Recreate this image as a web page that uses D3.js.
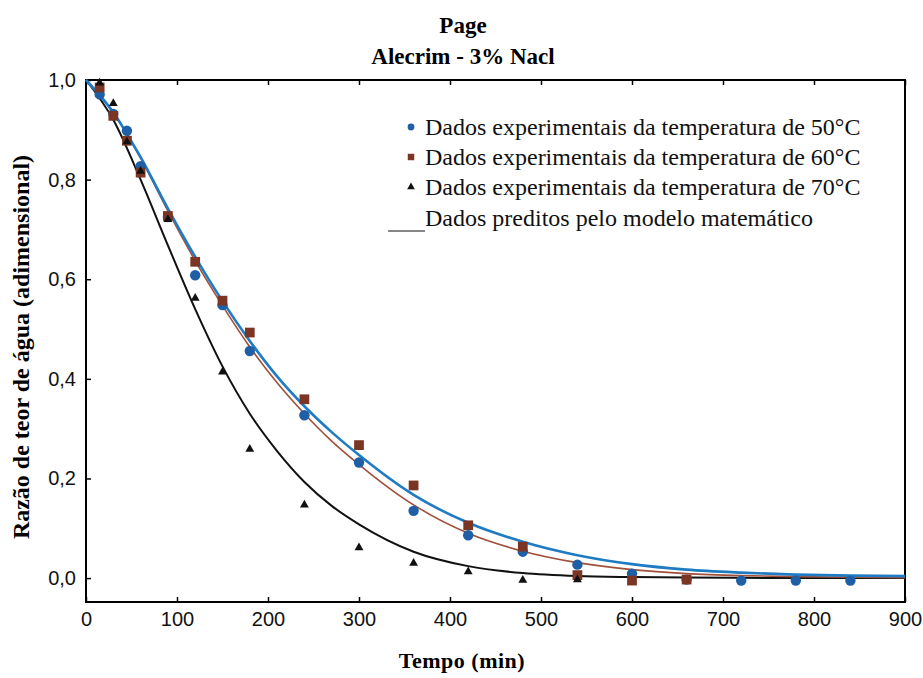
<!DOCTYPE html>
<html>
<head>
<meta charset="utf-8">
<script src="https://cdn.jsdelivr.net/npm/d3@7"></script>
<style>
  html, body { margin: 0; padding: 0; background: #fff; }
  svg { display: block; }
</style>
</head>
<body>
<svg id="chart" width="923" height="678"></svg>
<script>
// Drying-kinetics data: moisture ratio vs time (min) for three temperatures
const times = [15, 30, 45, 60, 90, 120, 150, 180, 240, 300, 360, 420, 480, 540, 600, 660, 720, 780, 840];
const mr50 = [0.971, 0.932, 0.898, 0.827, 0.725, 0.608, 0.548, 0.456, 0.327, 0.232, 0.135, 0.086, 0.053, 0.027, 0.009, -0.003, -0.005, -0.005, -0.005];
const mr60 = [0.985, 0.928, 0.878, 0.814, 0.727, 0.635, 0.557, 0.493, 0.359, 0.267, 0.186, 0.106, 0.063, 0.006, -0.005, -0.003];
const mr70 = [0.994, 0.953, 0.876, 0.817, 0.720, 0.562, 0.414, 0.259, 0.147, 0.061, 0.030, 0.013, -0.004, -0.003];

// Page model predictions, sampled along the time axis
const fitTimes = [0, 30, 60, 90, 120, 150, 180, 210, 240, 270, 300, 360, 420, 480, 540, 600, 660, 720, 780, 840, 900];
const fit50 = [1.0, 0.935, 0.845, 0.742, 0.645, 0.556, 0.476, 0.405, 0.345, 0.293, 0.247, 0.167, 0.111, 0.073, 0.046, 0.028, 0.017, 0.011, 0.007, 0.005, 0.004];
const fit60 = [1.0, 0.935, 0.843, 0.737, 0.637, 0.547, 0.464, 0.392, 0.330, 0.275, 0.228, 0.147, 0.090, 0.054, 0.031, 0.017, 0.009, 0.005, 0.003, 0.002, 0.001];
const fit70 = [1.0, 0.920, 0.800, 0.668, 0.540, 0.425, 0.330, 0.255, 0.193, 0.145, 0.108, 0.053, 0.024, 0.010, 0.004, 0.002, 0.001, 0.0005, 0.0002, 0.0001, 0.0];

const xTicks = [0, 100, 200, 300, 400, 500, 600, 700, 800, 900];
const yTicks = [0, 0.2, 0.4, 0.6, 0.8, 1.0];

const titleLines = ["Page", "Alecrim - 3% Nacl"];
const legendLabels = [
  "Dados experimentais da temperatura de 50°C",
  "Dados experimentais da temperatura de 60°C",
  "Dados experimentais da temperatura de 70°C",
  "Dados preditos pelo modelo matemático"
];

const colors = { c50: "#1f5fa6", l50: "#1f7bc2", c60: "#7a3524", l60: "#a0503a", c70: "#111111" };
const serif = "'Liberation Serif', 'Times New Roman', serif";
const sans = "'Liberation Sans', Arial, sans-serif";

const svg = d3.select("#chart");
const plotLeft = 86, plotRight = 905, plotTop = 80;
const x = d3.scaleLinear().domain([0, 900]).range([plotLeft, plotRight]);
const y = d3.scaleLinear().domain([-0.048, 1.0]).range([602, plotTop]);
const plotBottom = y(-0.048);

// Titles
svg.append("g").selectAll("text").data(titleLines).join("text")
  .attr("x", 463).attr("y", (d, i) => 33 + i * 31)
  .attr("text-anchor", "middle")
  .attr("font-family", serif).attr("font-weight", "bold").attr("font-size", 23)
  .text(d => d);

// Axes with inward ticks
const fmt = v => d3.format(".1f")(v).replace(".", ",");
const gx = svg.append("g").attr("transform", `translate(0,${plotBottom})`)
  .call(d3.axisBottom(x).tickValues(xTicks).tickSize(-5).tickPadding(10));
const gxt = svg.append("g").attr("transform", `translate(0,${plotTop})`)
  .call(d3.axisTop(x).tickValues(xTicks).tickSize(-5).tickFormat(""));
const gy = svg.append("g").attr("transform", `translate(${plotLeft},0)`)
  .call(d3.axisLeft(y).tickValues(yTicks).tickSize(-5).tickPadding(10).tickFormat(fmt));
[gx, gxt, gy].forEach(g => {
  g.select(".domain").remove();
  g.selectAll(".tick line").attr("stroke", "#000").attr("stroke-width", 1.5);
  g.selectAll("text").attr("font-family", sans).attr("font-size", 20).attr("fill", "#111");
});

// Plot frame
svg.append("rect")
  .attr("x", plotLeft).attr("y", plotTop).attr("width", plotRight - plotLeft).attr("height", plotBottom - plotTop)
  .attr("fill", "none").attr("stroke", "#000").attr("stroke-width", 2);

// Axis titles
svg.append("text")
  .attr("transform", `translate(29,${(plotTop + plotBottom) / 2 + 6}) rotate(-90)`)
  .attr("text-anchor", "middle")
  .attr("font-family", serif).attr("font-weight", "bold").attr("font-size", 24)
  .text("Razão de teor de água (adimensional)");
svg.append("text")
  .attr("x", 462).attr("y", 668).attr("text-anchor", "middle")
  .attr("font-family", serif).attr("font-weight", "bold").attr("font-size", 22)
  .attr("letter-spacing", 0.5)
  .text("Tempo (min)");

// Model curves
const line = d3.line().x(d => x(d[0])).y(d => y(d[1])).curve(d3.curveMonotoneX);
const plot = svg.append("g");
[[fit70, colors.c70, 2], [fit60, colors.l60, 1.6], [fit50, colors.l50, 2.6]].forEach(([vals, col, w]) => {
  plot.append("path")
    .datum(fitTimes.map((t, i) => [t, vals[i]]))
    .attr("fill", "none").attr("stroke", col).attr("stroke-width", w)
    .attr("d", line);
});

// Experimental points
const circleSym = d3.symbol(d3.symbolCircle, 85);
const squareSym = d3.symbol(d3.symbolSquare, 95);
const triSym = d3.symbol(d3.symbolTriangle, 34);
plot.append("g").selectAll("path").data(mr50.map((v, i) => [times[i], v])).join("path")
  .attr("transform", d => `translate(${x(d[0])},${y(d[1])})`)
  .attr("d", circleSym).attr("fill", colors.c50);
plot.append("g").selectAll("path").data(mr60.map((v, i) => [times[i], v])).join("path")
  .attr("transform", d => `translate(${x(d[0])},${y(d[1])})`)
  .attr("d", squareSym).attr("fill", colors.c60);
plot.append("g").selectAll("path").data(mr70.map((v, i) => [times[i], v])).join("path")
  .attr("transform", d => `translate(${x(d[0])},${y(d[1])})`)
  .attr("d", triSym).attr("fill", colors.c70);

// Legend
const legend = svg.append("g");
const rowY = [127, 157, 187, 218];
const legSyms = [
  [d3.symbol(d3.symbolCircle, 36), colors.c50],
  [d3.symbol(d3.symbolSquare, 42), colors.c60],
  [d3.symbol(d3.symbolTriangle, 26), colors.c70]
];
legSyms.forEach(([sym, col], i) => {
  legend.append("path").attr("transform", `translate(411,${rowY[i]})`).attr("d", sym).attr("fill", col);
});
legend.append("line")
  .attr("x1", 388).attr("x2", 425).attr("y1", 231).attr("y2", 231)
  .attr("stroke", "#111").attr("stroke-width", 1.2);
legend.selectAll("text").data(legendLabels).join("text")
  .attr("x", 425).attr("y", (d, i) => rowY[i] + 8)
  .attr("font-family", serif).attr("font-size", 24).attr("fill", "#111")
  .text(d => d);
</script>
</body>
</html>
